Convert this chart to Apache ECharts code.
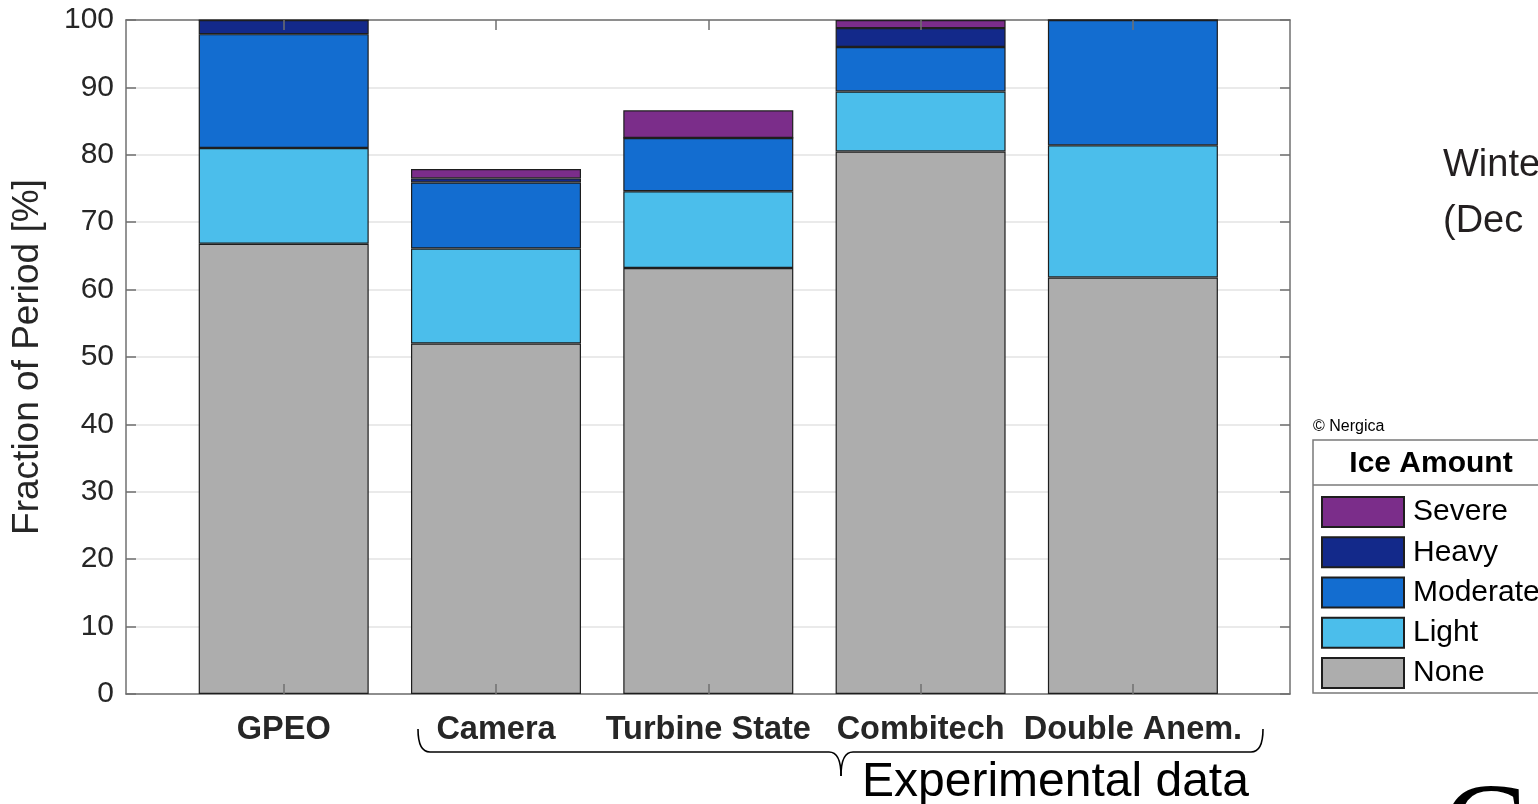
<!DOCTYPE html>
<html>
<head>
<meta charset="utf-8">
<script src="https://cdn.jsdelivr.net/npm/echarts@6/dist/echarts.min.js"></script>
<style>
html,body{margin:0;padding:0;background:#fff;}
#chart{width:1538px;height:804px;}
</style>
</head>
<body>
<div id="chart"></div>
<script>
const categories = ['GPEO', 'Camera', 'Turbine State', 'Combitech', 'Double Anem.'];
const noneVals     = [66.8, 52.0, 63.2, 80.5, 61.8];
const lightVals    = [14.2, 14.1, 11.4, 8.9, 19.6];
const moderateVals = [16.9, 9.8, 7.9, 6.6, 18.6];
const heavyVals    = [2.1, 0.6, 0, 2.8, 0];
const severeVals   = [0, 1.4, 4.1, 1.2, 0];
const yTicks = [0, 10, 20, 30, 40, 50, 60, 70, 80, 90, 100];
const legendOrder = ['Severe', 'Heavy', 'Moderate', 'Light', 'None'];

const FONT = '"Liberation Sans", Arial, Helvetica, sans-serif';
const AXIS_COLOR = '#707070';
const TEXT_COLOR = '#262626';

// Frame (plot box) geometry and category band geometry
const FRAME_LEFT = 126, FRAME_RIGHT_GAP = 248, TOP = 20, BOTTOM = 110;
const BAND = 212.3;
const FIRST_CENTER = 283.7;
const BARS_LEFT = FIRST_CENTER - BAND / 2;
const BARS_WIDTH = BAND * categories.length;

const seriesDefs = [
  {name: 'None', vals: noneVals, color: '#ADADAD'},
  {name: 'Light', vals: lightVals, color: '#4BBEEB'},
  {name: 'Moderate', vals: moderateVals, color: '#136DD0'},
  {name: 'Heavy', vals: heavyVals, color: '#13298A'},
  {name: 'Severe', vals: severeVals, color: '#7B2D8A'}
];

const chart = echarts.init(document.getElementById('chart'), null, {renderer: 'canvas'});

const braceStyle = {fill: 'none', stroke: '#000', lineWidth: 1.6};
function curve(x1, y1, cx, cy, x2, y2) {
  return {type: 'bezierCurve', z: 2, silent: true,
    shape: {x1: x1, y1: y1, cpx1: cx, cpy1: cy, x2: x2, y2: y2}, style: braceStyle};
}
function seg(x1, y1, x2, y2) {
  return {type: 'line', z: 2, silent: true, shape: {x1: x1, y1: y1, x2: x2, y2: y2}, style: braceStyle};
}
const frameLine = {show: true, onZero: false, lineStyle: {color: AXIS_COLOR, width: 1.5}};
const inTick = {show: true, inside: true, length: 10, lineStyle: {color: AXIS_COLOR, width: 1.5}};

const option = {
  animation: false,
  backgroundColor: '#ffffff',
  grid: [
    {left: FRAME_LEFT, top: TOP, right: FRAME_RIGHT_GAP, bottom: BOTTOM, containLabel: false},
    {left: BARS_LEFT, top: TOP, width: BARS_WIDTH, bottom: BOTTOM, containLabel: false}
  ],
  xAxis: [
    {gridIndex: 0, type: 'value', position: 'bottom', min: 0, max: 1,
      axisLine: frameLine, axisTick: {show: false}, axisLabel: {show: false}, splitLine: {show: false}},
    {gridIndex: 0, type: 'value', position: 'top', min: 0, max: 1,
      axisLine: frameLine, axisTick: {show: false}, axisLabel: {show: false}, splitLine: {show: false}},
    {gridIndex: 1, type: 'category', position: 'bottom', data: categories, boundaryGap: true, z: 5,
      axisLine: {show: false},
      axisTick: Object.assign({alignWithLabel: true}, inTick),
      axisLabel: {show: true, margin: 20, fontFamily: FONT, fontSize: 32.5, fontWeight: 'bold', color: TEXT_COLOR, interval: 0},
      splitLine: {show: false}},
    {gridIndex: 1, type: 'category', position: 'top', data: categories, boundaryGap: true, z: 5,
      axisLine: {show: false},
      axisTick: Object.assign({alignWithLabel: true}, inTick),
      axisLabel: {show: false}, splitLine: {show: false}}
  ],
  yAxis: [
    {gridIndex: 0, type: 'value', position: 'left', min: 0, max: 100, interval: 10,
      name: 'Fraction of Period [%]', nameLocation: 'middle', nameGap: 80,
      nameTextStyle: {fontFamily: FONT, fontSize: 37, color: TEXT_COLOR},
      axisLine: frameLine, axisTick: inTick,
      axisLabel: {show: true, margin: 12, fontFamily: FONT, fontSize: 30, color: TEXT_COLOR,
        formatter: v => (yTicks.indexOf(v) >= 0 ? String(v) : '')},
      splitLine: {show: true, lineStyle: {color: '#e3e3e3', width: 1.5}}},
    {gridIndex: 0, type: 'value', position: 'right', min: 0, max: 100, interval: 10,
      axisLine: frameLine, axisTick: inTick, axisLabel: {show: false}, splitLine: {show: false}},
    {gridIndex: 1, type: 'value', min: 0, max: 100, interval: 10, show: false,
      axisLine: {show: false}, axisTick: {show: false}, axisLabel: {show: false}, splitLine: {show: false}}
  ],
  legend: {
    orient: 'vertical', left: 1321, top: 496, padding: 0,
    itemWidth: 82, itemHeight: 30, itemGap: 8.25,
    icon: 'rect',
    data: legendOrder,
    textStyle: {fontFamily: FONT, fontSize: 30, lineHeight: 30, color: '#000', padding: [0, 0, 0, 4]},
    selectedMode: false
  },
  series: seriesDefs.map(s => ({
    name: s.name,
    type: 'bar',
    stack: 'ice',
    xAxisIndex: 2, yAxisIndex: 2,
    barWidth: 170,
    itemStyle: {color: s.color, borderColor: '#1e1e1e', borderWidth: 1.2},
    emphasis: {disabled: true},
    data: s.vals
  })),
  graphic: [
    {type: 'rect', z: 0, silent: true, shape: {x: 1313, y: 440, width: 300, height: 253},
      style: {fill: '#fff', stroke: '#7a7a7a', lineWidth: 1.5}},
    {type: 'line', z: 1, silent: true, shape: {x1: 1313, y1: 485, x2: 1538, y2: 485},
      style: {stroke: '#7a7a7a', lineWidth: 1.5}},
    {type: 'text', z: 2, silent: true, x: 1431, y: 464,
      style: {text: 'Ice Amount', font: 'bold 30px ' + FONT, fill: '#000', align: 'center', verticalAlign: 'middle'}},
    {type: 'text', z: 2, silent: true, x: 1313, y: 427,
      style: {text: '© Nergica', font: '16px ' + FONT, fill: '#000', align: 'left', verticalAlign: 'middle'}},
    {type: 'text', z: 2, silent: true, x: 1443, y: 166,
      style: {text: 'Winter', font: '38px ' + FONT, fill: '#231f20', align: 'left', verticalAlign: 'middle'}},
    {type: 'text', z: 2, silent: true, x: 1443, y: 222,
      style: {text: '(Dec', font: '38px ' + FONT, fill: '#231f20', align: 'left', verticalAlign: 'middle'}},
    curve(418, 729, 418, 752, 430, 752),
    seg(430, 752, 829, 752),
    curve(829, 752, 841, 752, 841, 776),
    curve(841, 776, 841, 752, 853, 752),
    seg(853, 752, 1251, 752),
    curve(1251, 752, 1263, 752, 1263, 729),
    {type: 'text', z: 2, silent: true, x: 862, y: 783,
      style: {text: 'Experimental data', font: '48px ' + FONT, fill: '#000', align: 'left', verticalAlign: 'middle'}},
    {type: 'text', z: 2, silent: true, x: 1442, y: 837,
      style: {text: 'C', font: '128px "Liberation Serif", "DejaVu Serif", serif', fill: '#000', align: 'left', verticalAlign: 'middle'}}
  ]
};

chart.setOption(option);
</script>
</body>
</html>
